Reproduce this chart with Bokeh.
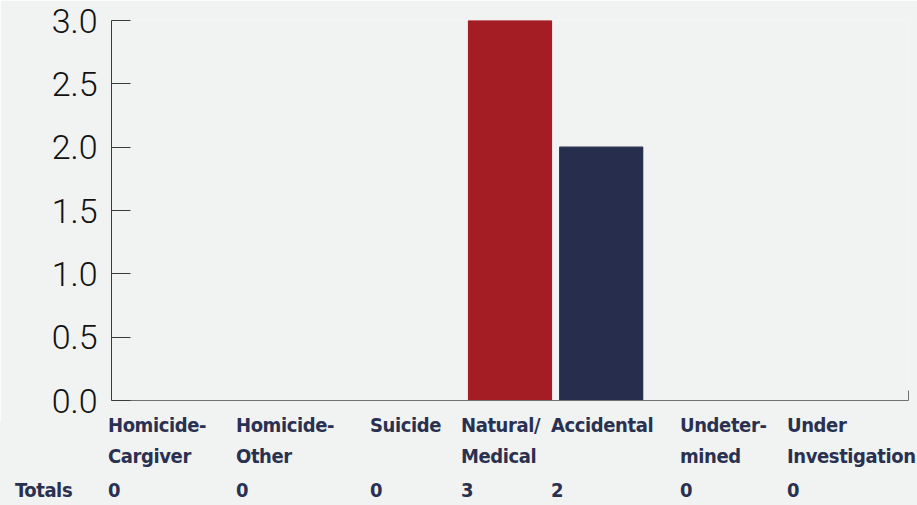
from bokeh.plotting import figure
from bokeh.layouts import column
from bokeh.models import Range1d, FixedTicker, LinearAxis, CustomJSTickFormatter, Div
from bokeh.embed import file_html
from bokeh.resources import INLINE

# ---- data ----
categories = ["Homicide-Cargiver", "Homicide-Other", "Suicide", "Natural/Medical",
              "Accidental", "Undetermined", "Under Investigation"]
label_lines = [["Homicide-", "Cargiver"], ["Homicide-", "Other"], ["Suicide"],
               ["Natural/", "Medical"], ["Accidental"], ["Undeter-", "mined"],
               ["Under", "Investigation"]]
values = [0, 0, 0, 3, 2, 0, 0]
y_ticks = [0.0, 0.5, 1.0, 1.5, 2.0, 2.5, 3.0]

# ---- styles / layout ----
bar_colors = ["#333333", "#333333", "#333333", "#a51d24", "#272d4d", "#333333", "#333333"]
col_x = [108, 236, 370, 461, 551, 680, 787]   # table column left edges (pixels)
totals_x = 15
row_top = [-7, 24]      # tops of the two category-name rows inside the table
totals_top = 58
BG = "#f1f2f2"
NAVY = "#2a3150"
LABEL_FONT = "'Liberation Sans Narrow', 'DejaVu Sans Condensed', sans-serif"
TICK_FONT = "'Roboto Light', 'Lato Light', Roboto, sans-serif"
W, H_TOP, H_BOT = 917, 422, 83

n = len(categories)
xs = list(range(n))
pad = 1.37

p = figure(width=W, height=H_TOP, output_backend="svg", toolbar_location=None,
           x_range=Range1d(-pad, n - 1 + pad), y_range=Range1d(0, 3),
           x_axis_type=None, y_axis_type=None,
           min_border_left=111, min_border_right=9, min_border_top=20, min_border_bottom=22)
p.background_fill_color = BG
p.border_fill_color = BG
p.outline_line_color = None
p.grid.visible = False

p.vbar(x=xs, top=values, width=0.91, fill_color=bar_colors, line_color=bar_colors, line_width=1.2)

yax = LinearAxis(ticker=FixedTicker(ticks=y_ticks),
                 formatter=CustomJSTickFormatter(code="return tick.toFixed(1);"))
yax.major_tick_in = 19
yax.major_tick_out = 0
yax.minor_tick_line_color = None
yax.axis_line_color = "#3a3a3a"
yax.major_tick_line_color = "#3a3a3a"
yax.major_label_standoff = 14
yax.major_label_text_font = TICK_FONT
yax.major_label_text_font_size = "34px"
yax.major_label_text_color = "#111111"
p.add_layout(yax, "left")

xax = LinearAxis(ticker=FixedTicker(ticks=[n - 1 + pad - 0.001]),
                 formatter=CustomJSTickFormatter(code="return '';"))
xax.major_tick_in = 10
xax.major_tick_out = 0
xax.minor_tick_line_color = None
xax.major_label_standoff = 0
xax.axis_line_color = "#707070"
xax.major_tick_line_color = "#707070"
p.add_layout(xax, "below")

# ---- table of category names and totals ----
def span(x, top, t):
    return (f'<div style="position:absolute;left:{x}px;top:{top}px;white-space:nowrap;'
            f'line-height:20px;">{t}</div>')

parts = []
for lx, lines, v in zip(col_x, label_lines, values):
    for i, t in enumerate(lines):
        parts.append(span(lx, row_top[i], t))
    parts.append(span(lx, totals_top, str(v)))
parts.append(span(totals_x, totals_top, "Totals"))

html = (f'<div style="position:relative;width:{W}px;height:{H_BOT}px;background:{BG};'
        f'font-family:{LABEL_FONT};font-weight:bold;font-size:20px;letter-spacing:-0.4px;'
        f'color:{NAVY};overflow:visible;">'
        + "".join(parts) + "</div>")
table = Div(text=html, width=W, height=H_BOT, margin=0,
            styles={"background-color": BG, "overflow": "visible"})

layout = column(p, table, spacing=0)
open("out.html", "w").write(file_html(layout, INLINE))
